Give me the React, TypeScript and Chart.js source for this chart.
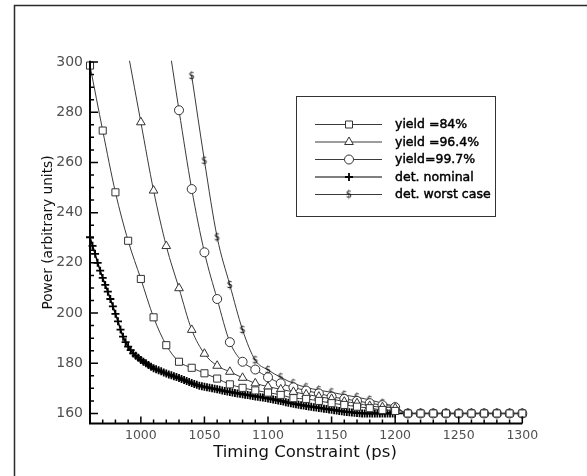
import React, { useEffect, useRef } from 'react';
import { Chart, registerables } from 'chart.js';

Chart.register(...registerables);

// ---- data ----
const timing = [960, 970, 980, 990, 1000, 1010, 1020, 1030, 1040, 1050, 1060, 1070, 1080, 1090, 1100, 1110, 1120, 1130, 1140, 1150, 1160, 1170, 1180, 1190, 1200, 1210, 1220, 1230, 1240, 1250, 1260, 1270, 1280, 1290, 1300];

const yield84 = [298.6, 272.7, 248.1, 228.8, 213.6, 198.3, 187.2, 180.6, 178.2, 176, 173.9, 171.6, 170.2, 169.2, 168.3, 167.4, 166.1, 165.8, 165, 164.1, 163.4, 162.7, 162.1, 161.4, 161, 160, 160, 160, 160, 160, 160, 160, 160, 160, 160];

const yield964 = [null, null, null, 303.5, 276, 248.8, 226.7, 209.9, 193.3, 183.8, 179, 176.6, 174.2, 172, 170.7, 169.6, 168.6, 167.6, 166.7, 165.8, 164.7, 164.1, 163, 162.5, 162.1, 160, 160, 160, 160, 160, 160, 160, 160, 160, 160];

const yield997 = [null, null, null, null, null, null, 314, 280.8, 249.4, 224.2, 205.6, 188.4, 180.6, 177.5, 174.4, 172, 170.4, 169.1, 168, 166.7, 165.8, 165, 164.1, 163.3, 162.5, 160, 160, 160, 160, 160, 160, 160, 160, 160, 160];

const worstCase = [null, null, null, null, null, null, null, null, 294.5, 260.7, 230.2, 211.2, 193.3, 181.2, 177.3, 174.4, 172, 170.4, 169.3, 168.4, 167.4, 166.5, 165.4, 164.1, 162.7, 160, 160, 160, 160, 160, 160, 160, 160, 160, 160];

const nominal: [number, number][] = [
  [960, 230.2], [962, 226.8], [964, 223.6], [966, 220], [968, 216.9], [970, 214], [972, 211.2], [974, 208.5],
  [976, 205.6], [978, 202.7], [980, 199.7], [982, 196.7], [984, 193.4], [986, 190.6], [988, 188.4], [990, 186.6],
  [992, 185.2], [994, 183.9], [996, 183], [998, 182.2], [1000, 181.3], [1002, 180.6], [1004, 180], [1006, 179.3],
  [1008, 178.6], [1010, 178], [1012, 177.6], [1014, 177.2], [1016, 176.8], [1018, 176.3], [1020, 175.9], [1022, 175.5],
  [1024, 175.2], [1026, 174.8], [1028, 174.5], [1030, 174.1], [1032, 173.7], [1034, 173.3], [1036, 172.9], [1038, 172.5],
  [1040, 172.1], [1042, 171.7], [1044, 171.4], [1046, 171], [1048, 170.8], [1050, 170.6], [1052, 170.4], [1054, 170.2],
  [1056, 170], [1058, 169.8], [1060, 169.6], [1062, 169.4], [1064, 169.1], [1066, 168.9], [1068, 168.7], [1070, 168.5],
  [1072, 168.4], [1074, 168.2], [1076, 168], [1078, 167.9], [1080, 167.7], [1082, 167.5], [1084, 167.4], [1086, 167.2],
  [1088, 167], [1090, 166.8], [1092, 166.7], [1094, 166.5], [1096, 166.4], [1098, 166.2], [1100, 166], [1102, 165.8],
  [1104, 165.6], [1106, 165.4], [1108, 165.2], [1110, 165], [1112, 164.8], [1114, 164.5], [1116, 164.3], [1118, 164.1],
  [1120, 163.9], [1122, 163.7], [1124, 163.5], [1126, 163.3], [1128, 163.2], [1130, 163], [1132, 162.8], [1134, 162.7],
  [1136, 162.5], [1138, 162.4], [1140, 162.2], [1142, 162.1], [1144, 161.9], [1146, 161.8], [1148, 161.6], [1150, 161.5],
  [1152, 161.3], [1154, 161.2], [1156, 161], [1158, 160.9], [1160, 160.7], [1162, 160.6], [1164, 160.5], [1166, 160.4],
  [1168, 160.3], [1170, 160.2], [1172, 160.1], [1174, 160], [1176, 160], [1178, 160], [1180, 160], [1182, 160],
  [1184, 160], [1186, 160], [1188, 160], [1190, 160], [1192, 160], [1194, 160], [1196, 160], [1198, 160],
  [1200, 160], [1210, 160], [1220, 160], [1230, 160], [1240, 160], [1250, 160], [1260, 160], [1270, 160],
  [1280, 160], [1290, 160], [1300, 160],
];

const seriesLabels = ['yield =84%', 'yield =96.4%', 'yield=99.7%', 'det. nominal', 'det. worst case'];
const xTickValues = [1000, 1050, 1100, 1150, 1200, 1250, 1300];
const yTickValues = [160, 180, 200, 220, 240, 260, 280, 300];
const xRange = [960, 1300];
const yRange = [156, 300.5];
const xMinorStep = 10;
const yMinorStep = 5;
const xTitle = 'Timing Constraint (ps)';
const yTitle = 'Power (arbitrary units)';

const LINE = '#3a3a3a';

function makeDollar(): HTMLCanvasElement {
  const c = document.createElement('canvas');
  c.width = 8;
  c.height = 12;
  const g = c.getContext('2d')!;
  g.fillStyle = '#111';
  g.font = '10px "DejaVu Sans"';
  g.textAlign = 'center';
  g.textBaseline = 'middle';
  g.fillText('$', 4, 6.5);
  return c;
}

function drawMarker(ctx: CanvasRenderingContext2D, kind: number, x: number, y: number, dollar: HTMLCanvasElement) {
  ctx.save();
  ctx.strokeStyle = '#333';
  ctx.fillStyle = '#fff';
  ctx.lineWidth = 1;
  ctx.beginPath();
  if (kind === 0) {
    ctx.rect(x - 3.5, y - 3.5, 7, 7);
    ctx.fill(); ctx.stroke();
  } else if (kind === 1) {
    const r = 5;
    ctx.moveTo(x, y - r);
    ctx.lineTo(x + r * 0.866, y + r * 0.5);
    ctx.lineTo(x - r * 0.866, y + r * 0.5);
    ctx.closePath();
    ctx.fill(); ctx.stroke();
  } else if (kind === 2) {
    ctx.arc(x, y, 4.5, 0, Math.PI * 2);
    ctx.fill(); ctx.stroke();
  } else if (kind === 3) {
    ctx.strokeStyle = '#000';
    ctx.lineWidth = 1.8;
    ctx.moveTo(x - 4, y); ctx.lineTo(x + 4, y);
    ctx.moveTo(x, y - 4); ctx.lineTo(x, y + 4);
    ctx.stroke();
  } else {
    ctx.drawImage(dollar, x - dollar.width / 2, y - dollar.height / 2);
  }
  ctx.restore();
}

export default function App() {
  const ref = useRef<HTMLCanvasElement | null>(null);

  useEffect(() => {
    if (!ref.current) return;
    const dollar = makeDollar();

    const decor = {
      id: 'decor',
      beforeDraw(chart: any) {
        const ctx = chart.ctx as CanvasRenderingContext2D;
        ctx.save();
        ctx.fillStyle = '#fff';
        ctx.fillRect(0, 0, chart.width, chart.height);
        ctx.strokeStyle = '#2a2a2a';
        ctx.lineWidth = 1.5;
        ctx.beginPath();
        ctx.moveTo(14.5, chart.height);
        ctx.lineTo(14.5, 5.5);
        ctx.lineTo(chart.width, 5.5);
        ctx.stroke();
        ctx.restore();
      },
      afterDraw(chart: any) {
        const ctx = chart.ctx as CanvasRenderingContext2D;
        const a = chart.chartArea;
        const xs = chart.scales.x;
        const ys = chart.scales.y;
        ctx.save();
        // axis lines
        ctx.strokeStyle = '#000';
        ctx.lineWidth = 2;
        ctx.beginPath();
        ctx.moveTo(a.left, a.top);
        ctx.lineTo(a.left, a.bottom);
        ctx.lineTo(a.right, a.bottom);
        ctx.stroke();
        // ticks (inward)
        ctx.lineWidth = 1.5;
        ctx.beginPath();
        for (let v = xTickValues[0] - 4 * xMinorStep; v <= xRange[1] + 0.01; v += xMinorStep) {
          if (v < xRange[0]) continue;
          const px = xs.getPixelForValue(v);
          const major = xTickValues.includes(v);
          ctx.moveTo(px, a.bottom);
          ctx.lineTo(px, a.bottom - (major ? 7 : 4));
        }
        for (let v = yTickValues[0]; v <= yRange[1] + 0.01; v += yMinorStep) {
          const py = ys.getPixelForValue(v);
          const major = yTickValues.includes(v);
          ctx.moveTo(a.left, py);
          ctx.lineTo(a.left + (major ? 8 : 4), py);
        }
        ctx.stroke();

        // axis titles
        ctx.fillStyle = '#111';
        ctx.font = '16.5px "DejaVu Sans"';
        ctx.textAlign = 'center';
        ctx.textBaseline = 'alphabetic';
        ctx.fillText(xTitle, 305, 457);
        ctx.save();
        ctx.translate(52, 232.5);
        ctx.rotate(-Math.PI / 2);
        ctx.font = '13.7px "DejaVu Sans"';
        ctx.fillText(yTitle, 0, 0);
        ctx.restore();

        // legend
        const bx = 296.5, by = 96.5, bw = 199, bh = 120;
        ctx.strokeStyle = '#333';
        ctx.lineWidth = 1;
        ctx.strokeRect(bx, by, bw, bh);
        const rows = [124, 141.5, 159, 176.5, 194];
        seriesLabels.forEach((lab, i) => {
          const ry = rows[i];
          ctx.strokeStyle = i === 3 ? '#000' : LINE;
          ctx.lineWidth = 1;
          ctx.beginPath();
          ctx.moveTo(315, ry + 0.5);
          ctx.lineTo(382, ry + 0.5);
          ctx.stroke();
          drawMarker(ctx, i, 349, ry + 0.5, dollar);
          ctx.fillStyle = '#000';
          ctx.strokeStyle = '#000';
          ctx.lineWidth = 0.45;
          ctx.font = '12.5px "DejaVu Sans"';
          ctx.textAlign = 'left';
          ctx.textBaseline = 'middle';
          ctx.fillText(lab, 395, ry + 1);
          ctx.strokeText(lab, 395, ry + 1);
        });
        ctx.restore();
      },
    };

    const coarse = (vals: (number | null)[]) =>
      timing.map((t, i) => ({ x: t, y: vals[i] })).filter((p) => p.y !== null);

    const clip = { left: 8, right: 8, top: 0, bottom: 8 };

    const chart = new Chart(ref.current, {
      type: 'line',
      data: {
        datasets: [
          {
            label: seriesLabels[0], data: coarse(yield84) as any, borderColor: LINE, borderWidth: 1,
            pointStyle: 'rect', pointRadius: 5, pointBorderColor: '#333', pointBackgroundColor: '#fff', pointBorderWidth: 1,
            cubicInterpolationMode: 'monotone', clip: clip as any,
          },
          {
            label: seriesLabels[1], data: coarse(yield964) as any, borderColor: LINE, borderWidth: 1,
            pointStyle: 'triangle', pointRadius: 5, pointBorderColor: '#333', pointBackgroundColor: '#fff', pointBorderWidth: 1,
            cubicInterpolationMode: 'monotone', clip: clip as any,
          },
          {
            label: seriesLabels[2], data: coarse(yield997) as any, borderColor: LINE, borderWidth: 1,
            pointStyle: 'circle', pointRadius: 4.5, pointBorderColor: '#333', pointBackgroundColor: '#fff', pointBorderWidth: 1,
            cubicInterpolationMode: 'monotone', clip: clip as any,
          },
          {
            label: seriesLabels[3], data: nominal.map(([x, y]) => ({ x, y })) as any, borderColor: '#000', borderWidth: 1.5,
            pointStyle: 'cross', pointRadius: 4, pointBorderColor: '#000', pointBorderWidth: 1.8,
            tension: 0, clip: clip as any,
          },
          {
            label: seriesLabels[4], data: coarse(worstCase) as any, borderColor: LINE, borderWidth: 1,
            pointStyle: dollar as any, pointRadius: 4,
            cubicInterpolationMode: 'monotone', clip: clip as any,
          },
        ],
      },
      options: {
        animation: false,
        responsive: false,
        devicePixelRatio: 1,
        layout: { padding: { left: 0, top: 60.8, right: 64.7, bottom: 0 } },
        plugins: { legend: { display: false }, tooltip: { enabled: false }, title: { display: false } },
        scales: {
          x: {
            type: 'linear',
            min: xRange[0],
            max: xRange[1],
            grid: { display: false, drawTicks: false },
            border: { display: false },
            afterBuildTicks: (s: any) => { s.ticks = xTickValues.map((v) => ({ value: v })); },
            afterFit: (s: any) => { s.height = 52.5; },
            ticks: {
              padding: 5, color: '#505050', font: { family: 'DejaVu Sans', size: 12.5 }, maxRotation: 0,
              callback: (v: any) => String(v),
            },
          },
          y: {
            type: 'linear',
            min: yRange[0],
            max: yRange[1],
            grid: { display: false, drawTicks: false },
            border: { display: false },
            afterBuildTicks: (s: any) => { s.ticks = yTickValues.map((v) => ({ value: v })); },
            afterFit: (s: any) => { s.width = 90; },
            ticks: { padding: 7, color: '#505050', font: { family: 'DejaVu Sans', size: 14 }, callback: (v: any) => String(v) },
          },
        },
      },
      plugins: [decor],
    });
    return () => chart.destroy();
  }, []);

  return (
    <div style={{ position: 'fixed', left: 0, top: 0, width: 587, height: 476, background: '#fff' }}>
      <canvas ref={ref} width={587} height={476} style={{ display: 'block' }} />
    </div>
  );
}
